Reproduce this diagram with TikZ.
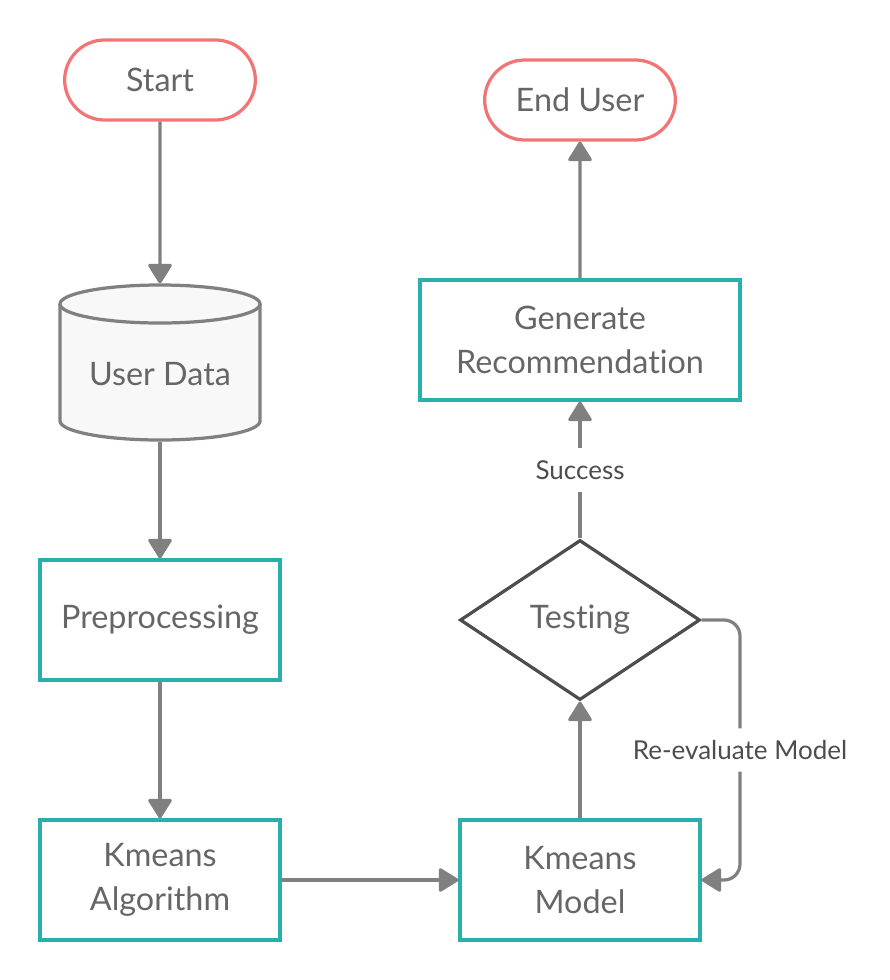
\documentclass[tikz,border=0pt]{standalone}
\usepackage{fontspec}
\setmainfont{Lato}[Ligatures=NoCommon]
\usetikzlibrary{arrows.meta,shapes.misc,shapes.geometric}

\definecolor{startred}{HTML}{F27474}
\definecolor{boxteal}{HTML}{2AB0AC}
\definecolor{linegray}{HTML}{808080}
\definecolor{textgray}{HTML}{666666}
\definecolor{diamondgray}{HTML}{4D4D4D}
\definecolor{cylfill}{HTML}{F8F8F8}

\tikzset{
  boxtext/.style={text=textgray, font=\fontsize{23}{31.5}\selectfont, align=center},
  terminal/.style={rounded rectangle, draw=startred, line width=2.3pt, minimum width=5cm, minimum height=2cm, boxtext},
  process/.style={rectangle, draw=boxteal, line width=2.3pt, minimum width=6cm, minimum height=3cm, boxtext},
  decision/.style={diamond, draw=diamondgray, line width=2.3pt, minimum width=6cm, minimum height=4cm, aspect=1.5, inner sep=0pt, boxtext},
  database/.style={rectangle, minimum width=5cm, minimum height=3.875cm, inner sep=0pt, outer sep=1.15pt},
  cylline/.style={draw=linegray, line width=2.3pt},
  flow/.style={draw=linegray, line width=2.3pt, -{Triangle[width=18pt,length=15pt,round]}},
  edgelabel/.style={fill=white, text=diamondgray, font=\fontsize{18.5}{22}\selectfont, inner xsep=2pt, inner ysep=0.3cm}
}

\begin{document}
\begin{tikzpicture}[x=0.025cm, y=-0.025cm]
% Canvas in pixel units
\useasboundingbox (0,0) rectangle (889,980);

% Left column
\node[terminal] (start) at (160,80) {Start};
% cylinder for the data store
\fill[cylfill] (60,304) -- (60,421) arc[start angle=180, end angle=360, x radius=2.5cm, y radius=0.475cm] -- (260,304) arc[start angle=0, end angle=180, x radius=2.5cm, y radius=0.475cm] -- cycle;
\draw[cylline] (60,304) -- (60,421) arc[start angle=180, end angle=360, x radius=2.5cm, y radius=0.475cm] -- (260,304);
\draw[cylline] (160,304) ellipse[x radius=2.5cm, y radius=0.475cm];
\node[database, label={[boxtext, yshift=-0.3cm]center:User Data}] (data) at (160,362.5) {};
\node[process] (prep) at (160,620) {Preprocessing};
\node[process] (kalgo) at (160,880) {Kmeans\\Algorithm};

% Right column
\node[process] (kmodel) at (580,880) {Kmeans\\Model};
\node[decision] (test) at (580,620) {Testing};
\node[process, minimum width=8cm] (gen) at (580,340) {Generate\\Recommendation};
\node[terminal] (enduser) at (580,100) {End User};

% Connectors
\draw[flow] (start) -- (data);
\draw[flow] (data) -- (prep);
\draw[flow] (prep) -- (kalgo);
\draw[flow] (kalgo) -- (kmodel);
\draw[flow] (kmodel) -- (test);
\draw[flow] (test) -- node[edgelabel] {Success} (gen);
\draw[flow] (gen) -- (enduser);
\draw[flow, rounded corners=0.4cm] (test.east) -- (740,620) -- node[edgelabel] {Re-evaluate Model} (740,880) -- (kmodel.east);
\end{tikzpicture}
\end{document}
